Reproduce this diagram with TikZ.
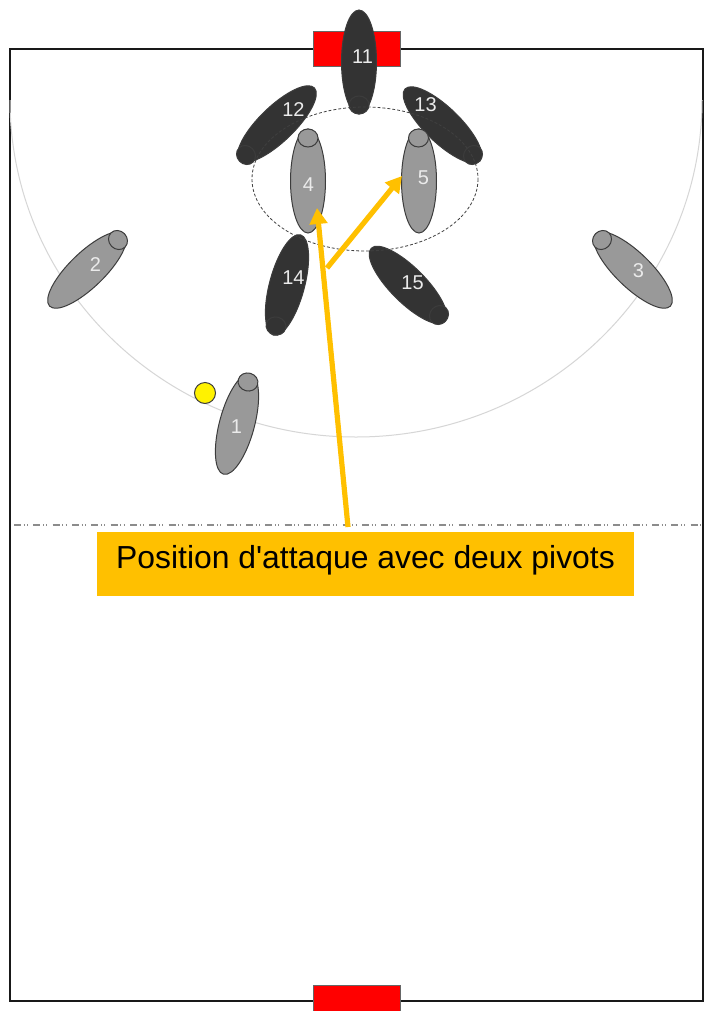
\documentclass[tikz,border=0pt]{standalone}
\usepackage{fontspec}
\setmainfont{Liberation Sans}[Ligatures=TeXOff]
\usetikzlibrary{shapes.geometric,arrows.meta}
\definecolor{darkplayer}{HTML}{333333}
\definecolor{lightplayer}{HTML}{999999}
\definecolor{outlinegray}{HTML}{3C3C3C}
\definecolor{note}{HTML}{FFC000}
\definecolor{goalred}{HTML}{FF0000}
\tikzset{
  px/.style={x=0.75pt,y=-0.75pt},
  bodyshape/.style={ellipse,inner sep=0pt,outer sep=0pt,draw=outlinegray,line width=0.75pt,minimum width=104*0.75pt,minimum height=35*0.75pt},
  headshape/.style={ellipse,inner sep=0pt,outer sep=0pt,draw=outlinegray,line width=0.75pt,minimum width=18*0.75pt,minimum height=20*0.75pt},
  nolabel/.style={inner sep=0pt,outer sep=0pt,text=white!92!black,font=\fontsize{15}{17}\selectfont},
  goalbox/.style={draw=black!60,line width=0.6pt,fill=goalred,minimum width=87*0.75pt,inner sep=0pt,outer sep=0pt},
  notearrow/.style={draw=note,line width=3.9pt,-{Triangle[length=12pt,width=13pt]}},
}
% #1 name, #2 centre, #3 rotation, #4 fill, #5 head, #6 label pos, #7 label
\newcommand{\playerfig}[7]{%
  \node[bodyshape,fill=#4,rotate=#3] (b#1) at (#2) {};
  \node[headshape,fill=#4,rotate=#3] (h#1) at (#5) {};
  \node[nolabel] (n#1) at (#6) {#7};
}
\begin{document}
\begin{tikzpicture}[px]
\useasboundingbox (0,0) rectangle (705,1011);
\fill[white] (0,0) rectangle (705,1011);
% court
\draw[black!90,line width=1.8pt] (10,49) rectangle (703,1001);
\draw[black!16,line width=0.75pt] (10,100) arc[start angle=180,end angle=0,x radius=346,y radius=337];
\draw[black!45,line width=1.4pt,dash pattern=on 5.3pt off 2pt on 0.8pt off 1.7pt on 0.8pt off 3.9pt] (14,525) -- (703,525);
% goals
\node[goalbox,minimum height=35*0.75pt] (goaltop) at (356.5,48.5) {};
\node[goalbox,minimum height=27*0.75pt] (goalbottom) at (356.5,998.5) {};
% defenders
\playerfig{11}{359,62}{90}{darkplayer}{359,105}{362.5,57}{11}
\playerfig{12}{277,124}{44}{darkplayer}{246,155}{293.5,110}{12}
\playerfig{13}{442.5,125}{-44}{darkplayer}{473,155}{425.5,105}{13}
\playerfig{14}{287,285}{75}{darkplayer}{276,326}{293.5,278}{14}
\playerfig{15}{408,285}{-45}{darkplayer}{439,315}{412.5,283}{15}
% zone
\draw[black!75,line width=0.6pt,dash pattern=on 2.2pt off 1.5pt] (365,179) ellipse[x radius=113,y radius=72];
% attackers
\playerfig{4}{308,181}{90}{lightplayer}{308,138}{308.5,185}{4}
\playerfig{5}{419,181}{90}{lightplayer}{418.5,138}{423.5,178}{5}
\playerfig{2}{87,270}{44}{lightplayer}{118,240}{95.5,265}{2}
\playerfig{3}{633,270}{-44}{lightplayer}{602,240}{638.5,271}{3}
\playerfig{1}{237,424}{75}{lightplayer}{248,382}{236.5,427}{1}
% ball
\node[circle,draw=outlinegray,line width=0.75pt,fill=yellow,minimum size=21*0.75pt,inner sep=0pt] (ball) at (205,393) {};
% caption
\node[fill=note,minimum width=537*0.75pt,minimum height=64*0.75pt,inner sep=0pt] (caption) at (365.5,564) {};
\node[inner sep=0pt,font=\fontsize{23.9}{27}\selectfont,anchor=base] (captiontext) at (365.5,568) {Position d'attaque avec deux pivots};
% arrows
\coordinate (from4) at (348,527);
\coordinate (to4) at (317,208);
\coordinate (from5) at (327,268);
\coordinate (to5) at (402,176);
\draw[notearrow] (from4) -- (to4);
\draw[notearrow] (from5) -- (to5);
\end{tikzpicture}
\end{document}
